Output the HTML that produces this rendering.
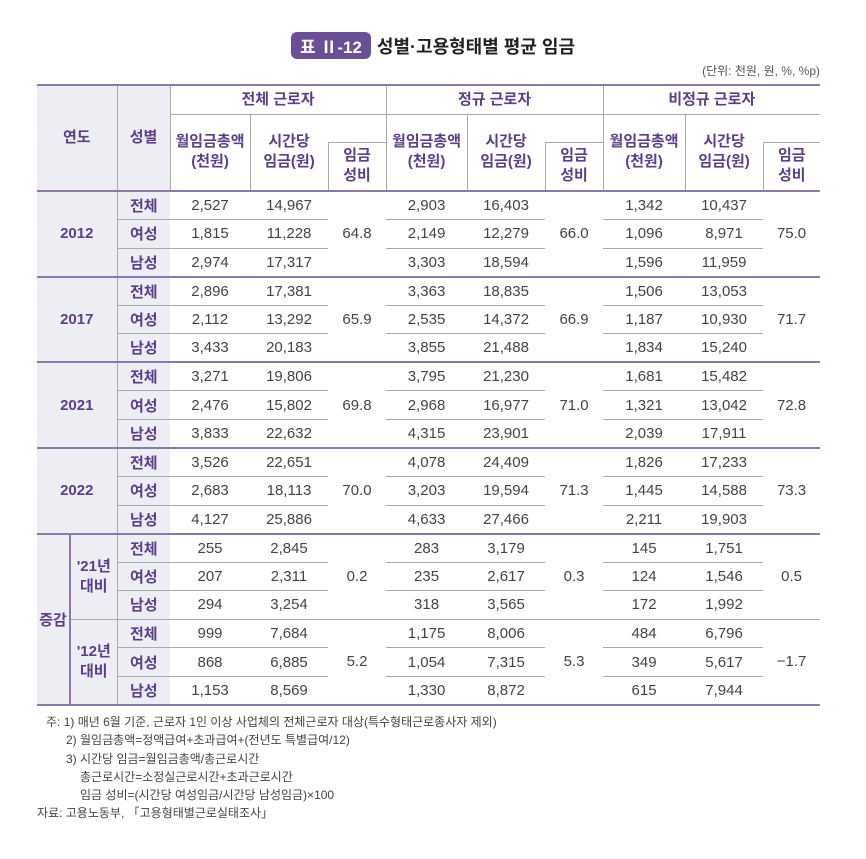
<!DOCTYPE html>
<html><head><meta charset="utf-8">
<style>
body{margin:0;width:866px;height:859px;background:#fff;font-family:"Liberation Sans","Noto Sans CJK KR",sans-serif;color:#333;position:relative;overflow:hidden}
#title{position:absolute;top:32px;left:0;width:866px;text-align:center;font-size:18px;font-weight:bold;color:#222}
#badge{display:inline-block;background:#6a4f98;color:#fff;border-radius:6px;padding:1px 9px;margin-right:6px;font-size:17px}
#unit{position:absolute;top:62px;right:46px;font-size:12px;color:#555}
table{position:absolute;left:37px;top:84px;width:783px;border-collapse:collapse;table-layout:fixed;font-size:15px}
td{padding:0;text-align:center;vertical-align:middle;border:0}
.lab{color:#5b3f8c;font-weight:bold}
.g{background:#edeef3}
.hd{color:#5b3f8c;font-weight:bold;line-height:20px}
tr.d{height:28.55px}
.bt{border-top:1px solid #aaa}
.bl{border-left:1px solid #aaa}
.pl{border-left:2px solid #8c78ab}
.num{color:#444}
#notes{position:absolute;left:37px;top:713px;font-size:12px;line-height:18.3px;color:#444}
</style></head><body>
<div id="title"><span id="badge">표 Ⅱ-12</span>성별·고용형태별 평균 임금</div>
<div id="unit">(단위: 천원, 원, %, %p)</div>
<table>
<colgroup><col style="width:33px"><col style="width:47px"><col style="width:53px"><col style="width:80px"><col style="width:78px"><col style="width:58px"><col style="width:81px"><col style="width:78px"><col style="width:58px"><col style="width:82px"><col style="width:78px"><col style="width:57px"></colgroup>
<tr style="height:29px;border-top:2px solid #8c78ab">
<td colspan="2" rowspan="3" class="g hd">연도</td>
<td rowspan="3" class="g hd bl">성별</td>
<td colspan="3" class="hd bl">전체 근로자</td>
<td colspan="3" class="hd bl">정규 근로자</td>
<td colspan="3" class="hd bl">비정규 근로자</td></tr>
<tr style="height:28px">
<td rowspan="2" class="hd bt bl">월임금총액<br>(천원)</td><td rowspan="2" class="hd bt bl">시간당<br>임금(원)</td><td class="bt"></td>
<td rowspan="2" class="hd bt bl">월임금총액<br>(천원)</td><td rowspan="2" class="hd bt bl">시간당<br>임금(원)</td><td class="bt"></td>
<td rowspan="2" class="hd bt bl">월임금총액<br>(천원)</td><td rowspan="2" class="hd bt bl">시간당<br>임금(원)</td><td class="bt"></td></tr>
<tr style="height:49px">
<td class="hd bt bl">임금<br>성비</td><td class="hd bt bl">임금<br>성비</td><td class="hd bt bl">임금<br>성비</td></tr>
<tbody id="tb"></tbody>
</table>
<div id="notes">
<div style="padding-left:9px">주: 1) 매년 6월 기준, 근로자 1인 이상 사업체의 전체근로자 대상(특수형태근로종사자 제외)</div>
<div style="padding-left:29px">2) 월임금총액=정액급여+초과급여+(전년도 특별급여/12)</div>
<div style="padding-left:29px">3) 시간당 임금=월임금총액/총근로시간</div>
<div style="padding-left:43px">총근로시간=소정실근로시간+초과근로시간</div>
<div style="padding-left:43px">임금 성비=(시간당 여성임금/시간당 남성임금)×100</div>
<div>자료: 고용노동부, 「고용형태별근로실태조사」</div>
</div>
<script>
const groups=["2012","2017","2021","2022","'21년<br>대비","'12년<br>대비"];
const genders=["전체","여성","남성"];
const vals=[
[["2,527","14,967","2,903","16,403","1,342","10,437"],["1,815","11,228","2,149","12,279","1,096","8,971"],["2,974","17,317","3,303","18,594","1,596","11,959"]],
[["2,896","17,381","3,363","18,835","1,506","13,053"],["2,112","13,292","2,535","14,372","1,187","10,930"],["3,433","20,183","3,855","21,488","1,834","15,240"]],
[["3,271","19,806","3,795","21,230","1,681","15,482"],["2,476","15,802","2,968","16,977","1,321","13,042"],["3,833","22,632","4,315","23,901","2,039","17,911"]],
[["3,526","22,651","4,078","24,409","1,826","17,233"],["2,683","18,113","3,203","19,594","1,445","14,588"],["4,127","25,886","4,633","27,466","2,211","19,903"]],
[["255","2,845","283","3,179","145","1,751"],["207","2,311","235","2,617","124","1,546"],["294","3,254","318","3,565","172","1,992"]],
[["999","7,684","1,175","8,006","484","6,796"],["868","6,885","1,054","7,315","349","5,617"],["1,153","8,569","1,330","8,872","615","7,944"]]];
const ratios=[["64.8","66.0","75.0"],["65.9","66.9","71.7"],["69.8","71.0","72.8"],["70.0","71.3","73.3"],["0.2","0.3","0.5"],["5.2","5.3","−1.7"]];
const tb=document.getElementById('tb');
groups.forEach((g,gi)=>{
  genders.forEach((s,ri)=>{
    const tr=document.createElement('tr');tr.className='d';
    if(ri===0 && gi!==5) tr.style.borderTop='2px solid #8c78ab';
    let h='';
    if(ri===0){
      if(gi<4) h+='<td colspan="2" rowspan="3" class="g lab">'+g+'</td>';
      else{
        if(gi===4) h+='<td rowspan="6" class="g lab">증감</td>';
        h+='<td rowspan="3" class="g lab pl'+(gi===5?' bt':'')+'" style="line-height:20px">'+g+'</td>';
      }
    }
    const b=(ri>0||gi===5)?' bt':'';
    h+='<td class="g lab bl'+b+'">'+s+'</td>';
    const v=vals[gi][ri];
    for(let k=0;k<3;k++){
      h+='<td class="num'+b+'">'+v[2*k]+'</td><td class="num'+b+'">'+v[2*k+1]+'</td>';
      if(ri===0) h+='<td rowspan="3" class="num'+(gi===5?' bt':'')+'">'+ratios[gi][k]+'</td>';
    }
    tr.innerHTML=h;
    
    
    tb.appendChild(tr);
  });
});
tb.lastChild.style.borderBottom='2px solid #8c78ab';
</script>
</body></html>
